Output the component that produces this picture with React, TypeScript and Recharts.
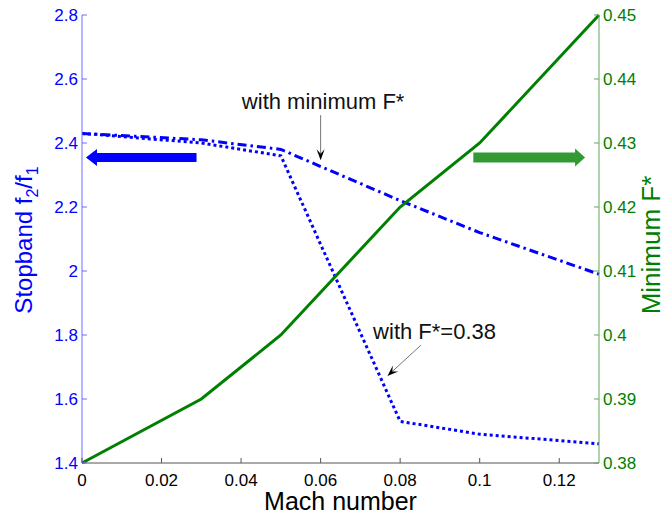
import React from "react";
import {
  ComposedChart,
  Line,
  XAxis,
  YAxis,
  ReferenceLine,
  ReferenceDot,
} from "recharts";

// Mach numbers where the cases were computed
const mach = [0, 0.03, 0.05, 0.08, 0.1, 0.13];
// stopband ratio f2/f1, optimised F*
const stopbandMinF = [2.43, 2.41, 2.38, 2.22, 2.12, 1.99];
// stopband ratio f2/f1 at fixed F* = 0.38
const stopbandFixed = [2.43, 2.4, 2.36, 1.53, 1.49, 1.46];
// minimum F* (right axis)
const minimumF = [0.38, 0.39, 0.4, 0.42, 0.43, 0.45];

const machTicks = [0, 0.02, 0.04, 0.06, 0.08, 0.1, 0.12];
const stopbandTicks = [1.4, 1.6, 1.8, 2, 2.2, 2.4, 2.6, 2.8];
const minFTicks = [0.38, 0.39, 0.4, 0.41, 0.42, 0.43, 0.44, 0.45];

const data = mach.map((m, i) => ({
  mach: m,
  minF: stopbandMinF[i],
  fixed: stopbandFixed[i],
  fstar: minimumF[i],
}));

const FONT = "'Liberation Sans', Arial, sans-serif";
const BLUE = "#0000ff";
const GREEN = "#008000";
const fmt = (v: number) => String(Number(v.toFixed(3)));

const LeftTick = ({ x, y, payload }: any) => (
  <g>
    <line x1={x} x2={x + 5} y1={y} y2={y} stroke="#6f6fff" />
    <text x={x - 4} y={y} dy="0.35em" textAnchor="end" fill={BLUE} fontSize={17} fontFamily={FONT}>
      {fmt(payload.value)}
    </text>
  </g>
);

const RightTick = ({ x, y, payload }: any) => (
  <g>
    <line x1={x} x2={x - 5} y1={y} y2={y} stroke="#5fa85f" />
    <text x={x + 4} y={y} dy="0.35em" textAnchor="start" fill={GREEN} fontSize={17} fontFamily={FONT}>
      {fmt(payload.value)}
    </text>
  </g>
);

const BottomTick = ({ x, y, payload }: any) => (
  <g>
    <line x1={x} x2={x} y1={y} y2={y - 5} stroke="#555" />
    <text x={x} y={y + 23} textAnchor="middle" fill="#000" fontSize={17} fontFamily={FONT}>
      {fmt(payload.value)}
    </text>
  </g>
);

const TopTick = ({ x, y }: any) => <line x1={x} x2={x} y1={y} y2={y + 5} stroke="#555" />;

// thick block arrow between (x1,y1) and (x2,y2), head at the second point
const BlockArrow = (color: string, body: number, head: number, headLen: number) => (p: any) => {
  const { x1, y1, x2, y2 } = p;
  const dir = x2 > x1 ? 1 : -1;
  const hb = x2 - dir * headLen;
  const d = `M${x1},${y1 - body / 2} L${hb},${y1 - body / 2} L${hb},${y1 - head / 2} L${x2},${y2} L${hb},${y1 + head / 2} L${hb},${y1 + body / 2} L${x1},${y1 + body / 2} Z`;
  return <path d={d} fill={color} />;
};

// thin annotation arrow with a small black head at the second point
const ThinArrow = (p: any) => {
  const { x1, y1, x2, y2 } = p;
  const a = Math.atan2(y2 - y1, x2 - x1);
  const L = 11;
  const w = 4;
  const bx = x2 - L * Math.cos(a);
  const by = y2 - L * Math.sin(a);
  const nx = -Math.sin(a) * w;
  const ny = Math.cos(a) * w;
  const mx = x2 - L * 0.6 * Math.cos(a);
  const my = y2 - L * 0.6 * Math.sin(a);
  return (
    <g>
      <line x1={x1} y1={y1} x2={mx} y2={my} stroke="#777" strokeWidth={1} />
      <path d={`M${x2},${y2} L${bx + nx},${by + ny} L${mx},${my} L${bx - nx},${by - ny} Z`} fill="#000" />
    </g>
  );
};

const Note = (text: string) => (p: any) => (
  <text x={p.cx} y={p.cy} fontSize={22} fontFamily={FONT} fill="#111">
    {text}
  </text>
);

const LeftLabel = () => (
  <text
    x={32}
    y={240}
    transform="rotate(-90, 32, 240)"
    textAnchor="middle"
    fill={BLUE}
    fontSize={24}
    fontFamily={FONT}
  >
    Stopband f
    <tspan fontSize={16} dy={6}>2</tspan>
    <tspan dy={-6}>/f</tspan>
    <tspan fontSize={16} dy={6}>1</tspan>
  </text>
);

const RightLabel = () => (
  <text
    x={660}
    y={245}
    transform="rotate(-90, 660, 245)"
    textAnchor="middle"
    fill={GREEN}
    fontSize={26}
    fontFamily={FONT}
  >
    Minimum F*
  </text>
);

export default function App() {
  return (
    <div style={{ position: "absolute", left: 0, top: 0, background: "#fff" }}>
      <ComposedChart
        width={666}
        height={515}
        data={data}
        margin={{ top: 15, right: 0, bottom: 0, left: 0 }}
      >
        <XAxis
          xAxisId="bottom"
          dataKey="mach"
          type="number"
          domain={[0, 0.13]}
          ticks={machTicks}
          interval={0}
          height={52}
          tickSize={0}
          tickMargin={0}
          stroke="#555"
          tick={<BottomTick />}
          label={{
            value: "Mach number",
            position: "insideBottom",
            offset: 5,
            fill: "#000",
            fontSize: 25,
            fontFamily: FONT,
          }}
        />
        <XAxis
          xAxisId="top"
          dataKey="mach"
          type="number"
          orientation="top"
          domain={[0, 0.13]}
          ticks={machTicks}
          interval={0}
          height={0}
          tickSize={0}
          tickMargin={0}
          stroke="#808080"
          tick={<TopTick />}
        />
        <YAxis
          yAxisId="left"
          type="number"
          domain={[1.4, 2.8]}
          ticks={stopbandTicks}
          interval={0}
          width={82}
          tickSize={0}
          tickMargin={0}
          stroke="#6f6fff"
          tick={<LeftTick />}
          label={{ content: <LeftLabel /> }}
        />
        <YAxis
          yAxisId="right"
          orientation="right"
          type="number"
          domain={[0.38, 0.45]}
          ticks={minFTicks}
          interval={0}
          width={67}
          tickSize={0}
          tickMargin={0}
          stroke="#5fa85f"
          tick={<RightTick />}
          label={{ content: <RightLabel /> }}
        />

        <Line
          xAxisId="bottom"
          yAxisId="left"
          dataKey="minF"
          stroke={BLUE}
          strokeWidth={3}
          strokeDasharray="9 4 2.5 4"
          dot={false}
          type="linear"
          isAnimationActive={false}
        />
        <Line
          xAxisId="bottom"
          yAxisId="left"
          dataKey="fixed"
          stroke={BLUE}
          strokeWidth={3}
          strokeDasharray="3 3"
          dot={false}
          type="linear"
          isAnimationActive={false}
        />
        <Line
          xAxisId="bottom"
          yAxisId="right"
          dataKey="fstar"
          stroke={GREEN}
          strokeWidth={3}
          dot={false}
          type="linear"
          isAnimationActive={false}
        />

        {/* direction arrows: which axis each curve belongs to */}
        <ReferenceLine
          xAxisId="bottom"
          yAxisId="left"
          segment={[{ x: 0.0288, y: 2.355 }, { x: 0.001, y: 2.355 }]}
          shape={BlockArrow(BLUE, 9, 17, 11)}
        />
        <ReferenceLine
          xAxisId="bottom"
          yAxisId="left"
          segment={[{ x: 0.0984, y: 2.355 }, { x: 0.1265, y: 2.355 }]}
          shape={BlockArrow("#339933", 10, 18, 10)}
        />

        {/* curve annotations */}
        <ReferenceDot xAxisId="bottom" yAxisId="left" x={0.0402} y={2.505} r={0} shape={Note("with minimum F*")} />
        <ReferenceLine
          xAxisId="bottom"
          yAxisId="left"
          segment={[{ x: 0.06, y: 2.487 }, { x: 0.06, y: 2.346 }]}
          shape={ThinArrow}
        />
        <ReferenceDot xAxisId="bottom" yAxisId="left" x={0.0732} y={1.787} r={0} shape={Note("with F*=0.38")} />
        <ReferenceLine
          xAxisId="bottom"
          yAxisId="left"
          segment={[{ x: 0.0852, y: 1.768 }, { x: 0.0768, y: 1.672 }]}
          shape={ThinArrow}
        />
      </ComposedChart>
    </div>
  );
}
